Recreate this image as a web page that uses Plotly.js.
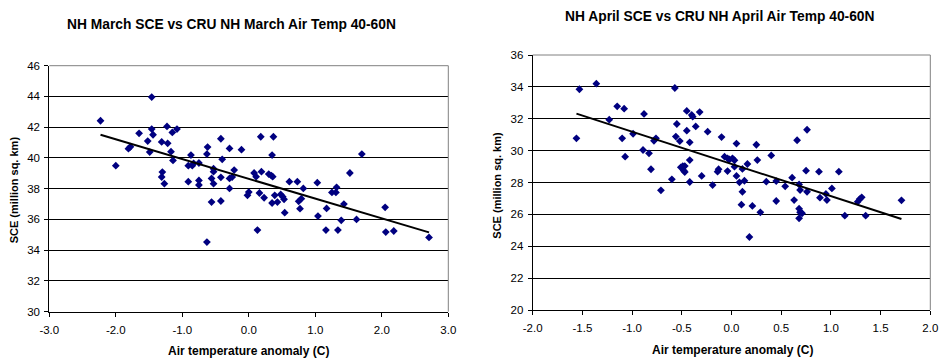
<!DOCTYPE html>
<html>
<head>
<meta charset="utf-8">
<script src="https://cdn.plot.ly/plotly-3.0.1.min.js"></script>
<style>
html,body{margin:0;padding:0;background:#fff;}
#chart{width:941px;height:358px;}
</style>
</head>
<body>
<div id="chart"></div>
<script>
// ---- March (left) ----
const marchTemp = [-2.23,-1.46,-2.00,-1.81,-1.78,-1.65,-1.52,-1.49,-1.46,-1.44,-1.31,-1.30,-1.31,-1.27,-1.23,-1.22,-1.17,-1.15,-1.14,-1.08,
  -0.91,-0.91,-0.87,-0.85,-0.83,-0.75,-0.75,-0.75,-0.63,-0.62,-0.63,-0.56,-0.56,-0.53,-0.53,-0.53,-0.42,-0.40,-0.42,-0.42,
  -0.29,-0.29,-0.29,-0.25,-0.22,-0.11,-0.02,0.00,0.08,0.11,0.13,0.16,0.18,0.19,0.23,0.30,0.34,0.36,0.35,0.37,
  0.35,0.39,0.43,0.48,0.51,0.53,0.54,0.61,0.73,0.75,0.77,0.79,0.82,1.03,1.04,1.16,1.17,1.25,1.32,1.31,
  1.34,1.39,1.43,1.52,1.62,1.70,2.05,2.06,2.18,2.71];
const marchSCE = [42.42,43.96,39.50,40.60,40.73,41.60,41.10,40.38,41.88,41.51,41.04,39.08,38.76,38.33,42.05,40.95,40.41,41.66,39.84,41.88,
  38.46,39.50,40.19,39.50,39.65,39.67,38.54,38.24,34.53,40.71,40.25,37.13,38.67,39.30,39.11,38.33,41.25,39.91,38.74,37.20,
  40.62,38.67,38.02,38.76,39.21,40.54,37.57,37.78,39.02,38.78,35.31,37.72,41.38,39.11,37.41,38.95,38.85,38.78,40.19,41.38,
  37.07,37.57,37.13,37.63,37.48,37.31,36.44,38.46,38.46,37.18,36.70,37.35,38.02,38.39,36.22,35.31,36.72,37.76,38.09,37.76,
  35.31,35.94,37.00,39.02,36.00,40.25,36.79,35.18,35.25,34.83];
const marchTrendX = [-2.23, 2.71];
const marchTrendY = [41.51, 35.16];

// ---- April (right) ----
const aprilTemp = [-1.56,-1.53,-1.36,-1.23,-1.15,-1.08,-1.10,-1.07,-0.99,-0.89,-0.88,-0.83,-0.81,-0.78,-0.76,-0.71,-0.60,-0.57,-0.56,-0.55,
  -0.52,-0.51,-0.49,-0.48,-0.47,-0.47,-0.45,-0.45,-0.42,-0.42,-0.42,-0.40,-0.39,-0.36,-0.32,-0.30,-0.24,-0.19,-0.14,-0.13,
  -0.10,-0.07,-0.04,-0.02,0.01,0.03,-0.04,0.03,0.05,0.05,0.08,0.11,0.11,0.10,0.13,0.16,0.18,0.21,0.25,0.26,
  0.29,0.35,0.40,0.45,0.45,0.54,0.61,0.63,0.66,0.68,0.69,0.68,0.69,0.71,0.68,0.75,0.76,0.76,0.88,0.89,
  0.96,0.95,1.01,1.08,1.14,1.27,1.29,1.31,1.35,1.71];
const aprilSCE = [30.77,33.85,34.20,31.94,32.78,32.63,30.77,29.62,31.06,30.04,32.30,29.83,28.83,30.62,30.77,27.51,28.20,33.93,30.88,31.67,
  30.60,28.95,29.03,28.74,29.03,28.66,32.49,31.25,30.52,29.41,28.03,32.24,32.13,31.52,32.42,28.41,31.19,27.84,28.68,28.83,
  30.85,29.62,29.52,29.45,29.52,29.39,28.72,28.99,30.44,28.41,28.01,28.85,27.42,26.61,28.11,29.16,24.58,26.53,30.37,29.41,
  26.13,28.05,29.70,28.09,26.84,27.76,28.30,26.90,30.65,27.88,27.53,26.36,26.13,26.07,25.75,28.74,31.31,27.42,28.68,27.05,
  26.90,27.28,27.63,28.68,25.92,26.80,26.96,27.07,25.92,26.88];
const aprilTrendX = [-1.56, 1.71];
const aprilTrendY = [32.32, 25.71];

const marchTicks = [-3.0,-2.0,-1.0,0.0,1.0,2.0,3.0];
const aprilTicks = [-2.0,-1.5,-1.0,-0.5,0.0,0.5,1.0,1.5,2.0];

const FONT = 'Liberation Sans, Arial, sans-serif';
const markerStyle = {symbol:'diamond', size:6, color:'#000080', line:{width:0}};

const traces = [
  {x:marchTemp, y:marchSCE, type:'scatter', mode:'markers', marker:markerStyle, xaxis:'x', yaxis:'y', hoverinfo:'none'},
  {x:marchTrendX, y:marchTrendY, type:'scatter', mode:'lines', line:{color:'#000', width:2}, xaxis:'x', yaxis:'y', hoverinfo:'none'},
  {x:aprilTemp, y:aprilSCE, type:'scatter', mode:'markers', marker:markerStyle, xaxis:'x2', yaxis:'y2', hoverinfo:'none'},
  {x:aprilTrendX, y:aprilTrendY, type:'scatter', mode:'lines', line:{color:'#000', width:2}, xaxis:'x2', yaxis:'y2', hoverinfo:'none'}
];

function xAxis(domain, range, ticks, anchor){
  return {domain:domain, range:range, tickvals:ticks, ticktext:ticks.map(v=>v.toFixed(1)),
    showgrid:false, zeroline:false, showline:true, linecolor:'#000', linewidth:1,
    ticks:'outside', ticklen:4, tickcolor:'#000', tickfont:{family:FONT,size:11.5,color:'#000'},
    ticklabelstandoff:3, anchor:anchor, fixedrange:true};
}
function yAxis(domain, range, dtick, anchor){
  return {domain:domain, range:range, dtick:dtick, tick0:range[0],
    showgrid:true, gridcolor:'#000', gridwidth:1, zeroline:false, showline:true, linecolor:'#000', linewidth:1,
    ticks:'outside', ticklen:4, tickcolor:'#000', tickfont:{family:FONT,size:11.5,color:'#000'},
    ticklabelstandoff:2, anchor:anchor, fixedrange:true};
}

const xd1 = [49.3/941, 448.3/941], yd1 = [1-311.7/358, 1-65.7/358];
const xd2 = [532.7/941, 930.3/941], yd2 = [1-310/358, 1-55/358];

function ann(text, x, y, size, angle){
  return {text:'<b>'+text+'</b>', xref:'paper', yref:'paper', x:x/941, y:1-y/358,
    xanchor:'center', yanchor:'middle', showarrow:false, textangle:angle||0,
    font:{family:FONT, size:size, color:'#000'}};
}

const layout = {
  width:941, height:358,
  margin:{l:0,r:0,t:0,b:0},
  paper_bgcolor:'#fff', plot_bgcolor:'#fff',
  showlegend:false,
  font:{family:FONT, color:'#000'},
  xaxis: xAxis(xd1, [-3,3], marchTicks, 'y'),
  yaxis: yAxis(yd1, [30,46], 2, 'x'),
  xaxis2: xAxis(xd2, [-2,2], aprilTicks, 'y2'),
  yaxis2: yAxis(yd2, [20,36], 2, 'x2'),
  shapes:[
    {type:'line', xref:'paper', yref:'paper', x0:xd1[0], x1:xd1[1], y0:yd1[1], y1:yd1[1], line:{color:'#808080', width:1}},
    {type:'line', xref:'paper', yref:'paper', x0:xd1[1], x1:xd1[1], y0:yd1[0], y1:yd1[1], line:{color:'#808080', width:1}},
    {type:'line', xref:'paper', yref:'paper', x0:xd2[0], x1:xd2[1], y0:yd2[1], y1:yd2[1], line:{color:'#808080', width:1}},
    {type:'line', xref:'paper', yref:'paper', x0:xd2[1], x1:xd2[1], y0:yd2[0], y1:yd2[1], line:{color:'#808080', width:1}}
  ],
  annotations:[
    ann('NH March SCE vs CRU NH March Air Temp 40-60N', 231, 24, 13.8),
    ann('NH April SCE vs CRU NH April Air Temp 40-60N', 720, 17, 13.8),
    ann('Air temperature anomaly (C)', 249, 351, 12),
    ann('Air temperature anomaly (C)', 732, 350, 12),
    ann('SCE (million sq. km)', 14.3, 190, 11, -90),
    ann('SCE (million sq. km)', 496.7, 185, 11, -90)
  ]
};

Plotly.newPlot('chart', traces, layout, {staticPlot:true, displayModeBar:false});
</script>
</body>
</html>
